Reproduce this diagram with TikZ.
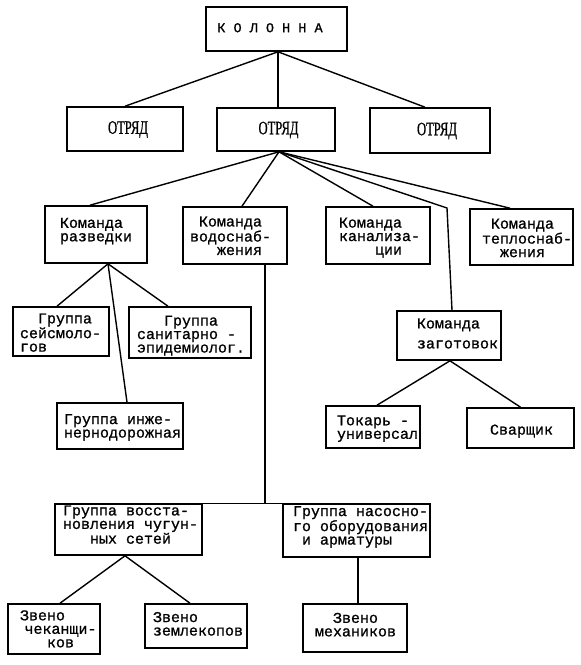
\documentclass[tikz,border=0pt]{standalone}
\usepackage{fontspec}
\usepackage{graphicx}
\newfontfamily\tw[FakeBold=1]{Liberation Mono}
\newfontfamily\ser[FakeBold=1]{Liberation Serif}
\newdimen\chw \chw=9pt
\newcommand\ind[1]{\hspace*{#1\chw}}
\newcommand\tx[3]{\kern\dimexpr #1pt*2\relax\raisebox{0pt}[\dimexpr\height+#2pt*2\relax][\depth]{\begin{tabular}{@{}l@{}}#3\end{tabular}}}
\newcommand\otr{\ser\fontsize{19}{19}\selectfont\scalebox{0.66}[1]{ОТРЯД}}
\tikzset{
  box/.style={draw, rectangle, line width=1.6pt, inner sep=0pt,
    font=\tw\fontsize{15}{13.5}\selectfont},
  ln/.style={line width=1.4pt}
}
\begin{document}
\begin{tikzpicture}[x=1pt,y=-1pt]
\useasboundingbox (0,0) rectangle (581,665);
% level 0
\node[box, minimum width=141, minimum height=44] (kol) at (276.5,29) {\tx{-6.5}{0.5}{\fontsize{13.5}{13}\selectfont К О Л О Н Н А}};
% level 1
\node[box, minimum width=116, minimum height=44] (o1) at (125,129) {\tx{3}{0.5}{\otr}};
\node[box, minimum width=118, minimum height=43] (o2) at (276,129.5) {\tx{2.5}{0.5}{\otr}};
\node[box, minimum width=120, minimum height=45] (o3) at (430,130.5) {\tx{7}{0.5}{\otr}};
% level 2
\node[box, minimum width=102, minimum height=57] (kr) at (96,234.5) {\tx{0}{-2.9}{Команда\\разведки}};
\node[box, minimum width=104, minimum height=57] (kv) at (235,235.5) {\tx{-4.5}{2.3}{\ind{1}Команда\\водоснаб-\\\ind{3}жения}};
\node[box, minimum width=104, minimum height=57] (kk) at (378,235.5) {\tx{1.5}{2.6}{Команда\\канализа-\\\ind{4}ции}};
\node[box, minimum width=103, minimum height=56] (kt) at (521.5,237) {\tx{5.5}{2.9}{\ind{1}Команда\\теплоснаб-\\\ind{2}жения}};
% level 3
\node[box, minimum width=96, minimum height=49] (gs) at (61,331.5) {\tx{-0.5}{3.1}{\ind{2}Группа\\сейсмоло-\\гов}};
\node[box, minimum width=122, minimum height=51] (ge) at (190,332.5) {\tx{1}{3.6}{\ind{3}Группа\\санитарно -\\эпидемиолог.}};
\node[box, minimum width=126, minimum height=46] (gi) at (120,426) {\tx{2.5}{1.9}{Группа инже-\\нернодорожная}};
\node[box, minimum width=104, minimum height=49] (kz) at (449,335.5) {\tx{8.5}{0}{Команда\\[6.5pt]заготовок}};
\node[box, minimum width=94, minimum height=42] (tu) at (373,427) {\tx{4.5}{2.1}{Токарь -\\универсал}};
\node[box, minimum width=107, minimum height=40] (sv) at (520.5,428) {\tx{1}{3.6}{Сварщик}};
% level 4
\node[box, minimum width=147, minimum height=51] (gv) at (128.5,529.5) {\tx{2}{-2.9}{Группа восста-\\новления чугун-\\\ind{3}ных сетей}};
\node[box, minimum width=147, minimum height=53] (gn) at (356.5,530.5) {\tx{4}{-3.1}{Группа насосно-\\го оборудования\\\ind{1}и арматуры}};
% level 5
\node[box, minimum width=92, minimum height=50] (zc) at (54,629) {\tx{4.25}{1.8}{Звено\\\ind{0.5}чеканщи-\\\ind{3}ков}};
\node[box, minimum width=102, minimum height=44] (zz) at (196,626) {\tx{2}{-0.2}{Звено\\землекопов}};
\node[box, minimum width=104, minimum height=48] (zm) at (355,628) {\tx{0.5}{-1.4}{\ind{2}Звено\\механиков}};
% connectors
\draw[ln] ([xshift=1.5]kol.south) -- (o1.north);
\draw[ln] ([xshift=1.5]kol.south) -- ([xshift=2]o2.north);
\draw[ln] ([xshift=1.5]kol.south) -- ([xshift=-5]o3.north);
\draw[ln] ([xshift=3]o2.south) -- ([xshift=-6]kr.north);
\draw[ln] ([xshift=3]o2.south) -- ([xshift=7]kv.north);
\draw[ln] ([xshift=3]o2.south) -- ([xshift=-5]kk.north);
\draw[ln] ([xshift=3]o2.south) -- ([xshift=-11.5]kt.north);
\coordinate (bend) at (447,208);
\draw[ln] ([xshift=3]o2.south) -- (bend) -- ([xshift=3]kz.north);
\draw[ln] ([xshift=12]kr.south) -- ([xshift=-4]gs.north);
\draw[ln] ([xshift=12]kr.south) -- ([xshift=-22]ge.north);
\draw[ln] ([xshift=12]kr.south) -- ([xshift=7]gi.north);
\coordinate (jn) at (265,504);
\draw[ln] ([xshift=30]kv.south) -- (jn);
\draw[ln] (gv.north east) -- (gn.north west);
\draw[ln] ([xshift=1]kz.south) -- ([xshift=4]tu.north);
\draw[ln] ([xshift=1]kz.south) -- (sv.north);
\draw[ln] ([xshift=-3.5]gv.south) -- ([xshift=6]zc.north);
\draw[ln] ([xshift=-3.5]gv.south) -- ([xshift=-6]zz.north);
\draw[ln] ([xshift=1.5]gn.south) -- ([xshift=1.5]gn.south |- zm.north);
\end{tikzpicture}
\end{document}
